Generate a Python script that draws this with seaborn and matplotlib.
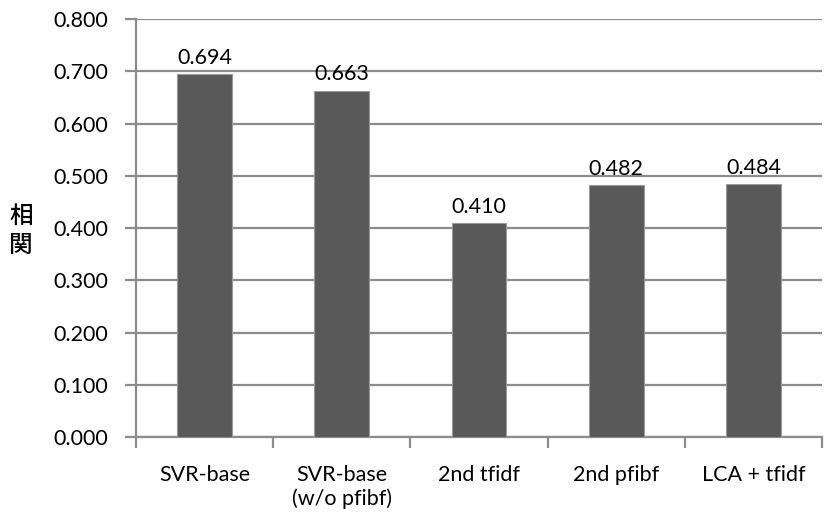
import matplotlib
matplotlib.use("Agg")
import matplotlib.pyplot as plt
import seaborn as sns
import pandas as pd
import numpy as np

categories = ["SVR-base", "SVR-base\n(w/o pfibf)", "2nd tfidf", "2nd pfibf", "LCA + tfidf"]
values = [0.694, 0.663, 0.410, 0.482, 0.484]
y_ticks = [0.0, 0.1, 0.2, 0.3, 0.4, 0.5, 0.6, 0.7, 0.8]

sns.set_theme(style="white")
plt.rcParams["font.family"] = ["Lato", "Noto Sans CJK JP", "DejaVu Sans"]

df = pd.DataFrame({"method": categories, "corr": values})

fig = plt.figure(figsize=(8.24, 5.17), dpi=100)
ax = fig.add_axes([0.165, 0.1547, 0.8326, 0.8083])

sns.barplot(data=df, x="method", y="corr", color="#595959", saturation=1,
            width=0.4, edgecolor="#9a9a9a", linewidth=0.8, ax=ax, zorder=3)

fs = 15.5
ax.set_ylim(0, 0.8)
ax.set_xlim(-0.5, len(categories) - 0.5)
ax.set_yticks(y_ticks)
ax.set_yticklabels([f"{t:.3f}" for t in y_ticks], fontsize=fs, color="black")
ax.yaxis.grid(True, color="#8c8c8c", linewidth=1.6, zorder=0)
ax.set_axisbelow(True)

for i, v in enumerate(values):
    ax.text(i, v + 0.012, f"{v:.3f}", ha="center", va="bottom", fontsize=fs, color="black")

ax.tick_params(axis="y", which="major", direction="out", length=8, width=1.6,
               color="#8c8c8c", pad=12, left=True)
ax.set_xticks(range(len(categories)))
ax.set_xticklabels(categories, fontsize=fs, color="black", linespacing=1.2)
ax.tick_params(axis="x", which="major", length=0, pad=20)
ax.set_xticks(np.arange(-0.5, len(categories) + 0.5, 1.0), minor=True)
ax.tick_params(axis="x", which="minor", direction="out", length=8, width=1.6,
               color="#8c8c8c", bottom=True)

for side in ["top", "right"]:
    ax.spines[side].set_visible(False)
for side in ["left", "bottom"]:
    ax.spines[side].set_color("#8c8c8c")
    ax.spines[side].set_linewidth(1.6)

ax.set_xlabel("")
ax.set_ylabel("")
fig.text(21 / 824, 1 - 231 / 517, "相\n関", ha="center", va="center", fontsize=17,
         family=["Noto Sans CJK JP", "DejaVu Sans"], fontweight="medium",
         linespacing=1.3, color="black")

fig.savefig("out.png", dpi=100)
